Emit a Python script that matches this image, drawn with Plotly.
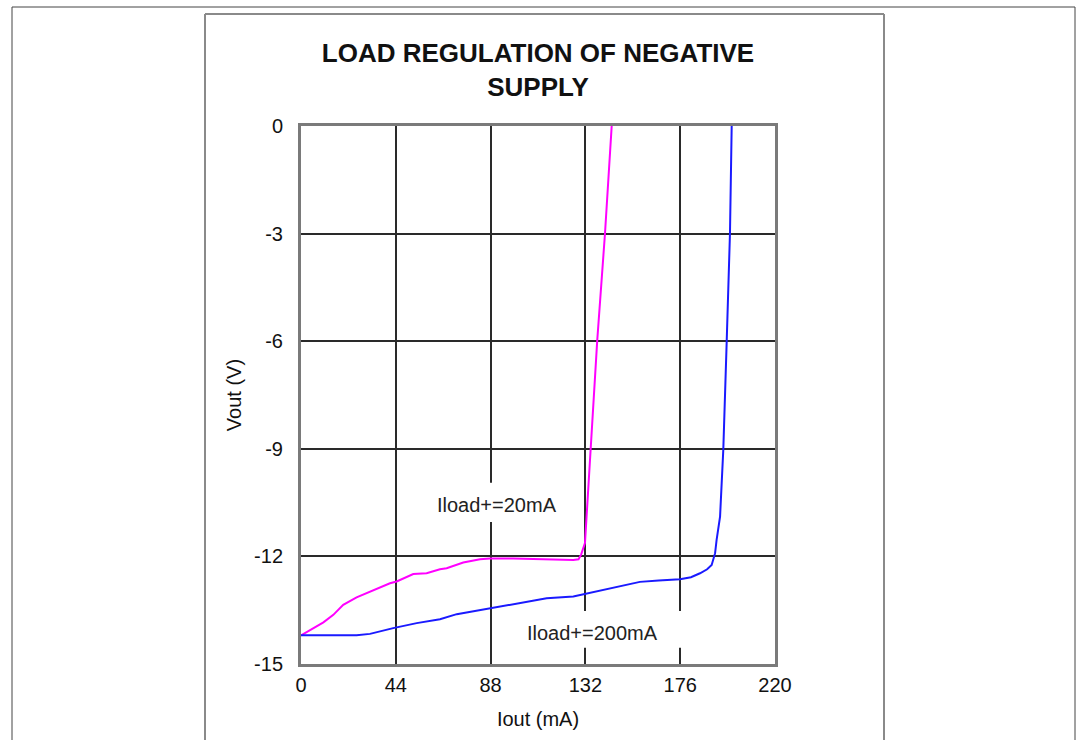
import plotly.graph_objects as go

# Data
iout_20mA = [0, 10.4, 15.0, 19.6, 25.8, 33.6, 41.3, 44.4, 49.1, 52.1, 58.3, 64.5, 67.6, 75.3,
             83.1, 87.7, 98.5, 110.9, 120.2, 126.4, 128.8, 130.0, 131.8, 134.5, 137.5, 141.1, 144.2]
vout_20mA = [-14.2, -13.84, -13.63, -13.35, -13.14, -12.94, -12.75, -12.70, -12.56, -12.49, -12.47,
             -12.36, -12.33, -12.17, -12.08, -12.06, -12.06, -12.08, -12.10, -12.10, -12.08, -11.95,
             -11.63, -9.03, -5.97, -2.99, 0.0]

iout_200mA = [0, 25.8, 32.0, 42.8, 53.7, 64.5, 72.3, 87.7, 101.6, 114.0, 126.4, 131.8, 145.0,
              157.3, 166.0, 175.9, 181.0, 185.2, 188.5, 190.6, 192.2, 192.9, 194.5, 196.0, 197.6, 199.1, 199.9]
vout_200mA = [-14.2, -14.2, -14.16, -14.0, -13.86, -13.75, -13.61, -13.45, -13.29, -13.17, -13.12,
              -13.05, -12.87, -12.71, -12.67, -12.64, -12.58, -12.47, -12.36, -12.24, -11.91, -11.54,
              -10.89, -9.03, -5.97, -2.99, 0.0]

x_ticks = [0, 44, 88, 132, 176, 220]
y_ticks = [0, -3, -6, -9, -12, -15]

label_20 = "Iload+=20mA"
label_200 = "Iload+=200mA"

FONT = "Liberation Sans, Arial, sans-serif"

fig = go.Figure()
fig.add_trace(go.Scatter(x=iout_20mA, y=vout_20mA, mode="lines",
                         line=dict(color="#FF00FF", width=2), name=label_20, showlegend=False))
fig.add_trace(go.Scatter(x=iout_200mA, y=vout_200mA, mode="lines",
                         line=dict(color="#1a1aff", width=2), name=label_200, showlegend=False))

W, H = 1081, 740
L, R, T, B = 301, 306, 126, 76
pw, ph = W - L - R, H - T - B


def px(xp):
    return (xp - L) / pw


def py(yp):
    return (H - B - yp) / ph


shapes = [
    # outer page frame
    dict(type="line", xref="paper", yref="paper", x0=px(12), x1=px(1075), y0=py(7), y1=py(7),
         line=dict(color="#444444", width=1)),
    dict(type="line", xref="paper", yref="paper", x0=px(12), x1=px(12), y0=py(7), y1=py(745),
         line=dict(color="#444444", width=1)),
    dict(type="line", xref="paper", yref="paper", x0=px(1075), x1=px(1075), y0=py(7), y1=py(745),
         line=dict(color="#444444", width=1)),
    # inner chart frame
    dict(type="line", xref="paper", yref="paper", x0=px(205), x1=px(884), y0=py(14), y1=py(14),
         line=dict(color="#8a8a8a", width=2)),
    dict(type="line", xref="paper", yref="paper", x0=px(205), x1=px(205), y0=py(14), y1=py(745),
         line=dict(color="#8a8a8a", width=2)),
    dict(type="line", xref="paper", yref="paper", x0=px(884), x1=px(884), y0=py(14), y1=py(745),
         line=dict(color="#8a8a8a", width=2)),
    # white label backgrounds that hide grid lines
    dict(type="rect", xref="x", yref="y", x0=57.6, x1=124.9, y0=-9.95, y1=-11.04,
         fillcolor="white", line=dict(width=0), layer="between"),
    dict(type="rect", xref="x", yref="y", x0=94.7, x1=182.9, y0=-13.52, y1=-14.55,
         fillcolor="white", line=dict(width=0), layer="between"),
]

annotations = [
    dict(x=91.0, y=-10.57, xref="x", yref="y", text=label_20, showarrow=False,
         font=dict(family=FONT, size=20, color="#222222")),
    dict(x=135.5, y=-14.14, xref="x", yref="y", text=label_200, showarrow=False,
         font=dict(family=FONT, size=20, color="#222222")),
]

fig.update_layout(
    width=W, height=H,
    margin=dict(l=L, r=R, t=T, b=B, pad=0),
    paper_bgcolor="white", plot_bgcolor="white",
    font=dict(family=FONT, size=20, color="#111111"),
    title=dict(text="<b>LOAD REGULATION OF NEGATIVE<br>SUPPLY</b>",
               x=px(538), xref="paper", xanchor="center",
               y=1 - 62 / H, yref="container", yanchor="middle",
               font=dict(family=FONT, size=26, color="#111111")),
    shapes=shapes,
    annotations=annotations,
    showlegend=False,
)

fig.update_xaxes(
    range=[0, 220], tickvals=x_ticks, ticktext=[str(v) for v in x_ticks],
    showgrid=True, gridcolor="#2a2a2a", gridwidth=2,
    showline=True, linecolor="#7a7a7a", linewidth=3, mirror=True,
    zeroline=False, ticks="", ticklabelstandoff=1,
    tickfont=dict(family=FONT, size=20, color="#111111"),
    title=dict(text="Iout (mA)", standoff=17, font=dict(family=FONT, size=20, color="#111111")),
)
fig.update_yaxes(
    range=[-15, 0], tickvals=y_ticks, ticktext=[str(v) for v in y_ticks],
    showgrid=True, gridcolor="#2a2a2a", gridwidth=2,
    showline=True, linecolor="#7a7a7a", linewidth=3, mirror=True,
    zeroline=False, ticks="", ticklabelstandoff=11,
    tickfont=dict(family=FONT, size=20, color="#111111"),
    title=dict(text="Vout (V)", standoff=8, font=dict(family=FONT, size=20, color="#111111")),
)

fig.write_html("out.html")
